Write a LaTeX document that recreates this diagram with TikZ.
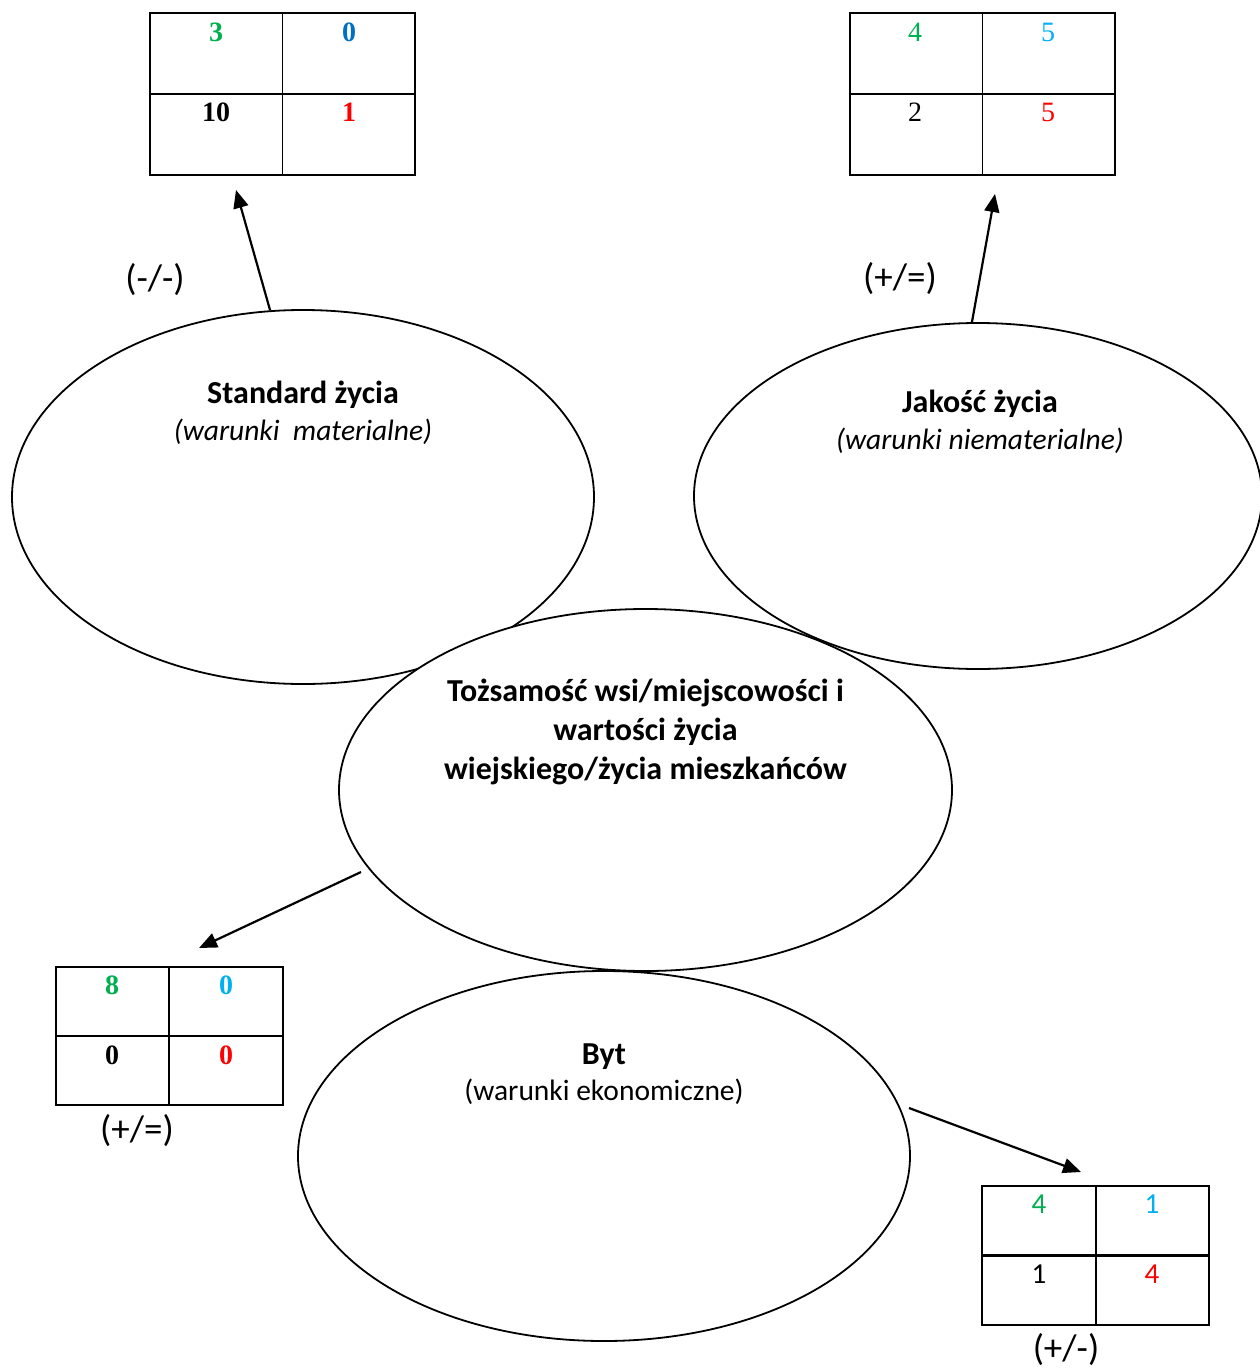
\documentclass[tikz,border=0pt]{standalone}
\usepackage{fontspec}
\setmainfont{Carlito}
\newfontfamily\numfont{Liberation Serif}
\usetikzlibrary{shapes.geometric,arrows.meta}
\definecolor{cgreen}{HTML}{00B050}
\definecolor{cblue}{HTML}{0070C0}
\definecolor{clblue}{HTML}{00B0F0}
\definecolor{cred}{HTML}{FF0000}
\newcommand{\bigb}[1]{{\fontsize{32}{37}\selectfont\bfseries #1}}
\begin{document}
\begin{tikzpicture}[x=1pt,y=-1pt,
  oval/.style={draw,ellipse,line width=1.8pt,fill=white,inner sep=0pt},
  tbl/.style={draw,line width=2.4pt,inner sep=0pt},
  cell/.style={line width=2.4pt},
  thincell/.style={line width=1.6pt},
  num/.style={font=\numfont\fontsize{28}{30}\selectfont\bfseries,inner sep=0pt},
  numr/.style={font=\numfont\fontsize{28}{30}\selectfont,inner sep=0pt},
  nums/.style={font=\fontsize{29}{30}\selectfont,inner sep=0pt},
  lbl/.style={font=\fontsize{37}{40}\selectfont,inner sep=0pt},
  ttl/.style={align=center,inner sep=0pt,font=\fontsize{29.5}{37}\selectfont},
  arr/.style={line width=2.2pt,-{Triangle[length=18pt,width=15pt]}}
]
\useasboundingbox[fill=white] (0,0) rectangle (1260,1368);

% ellipses
\node[oval,minimum width=582pt,minimum height=374pt] (std) at (303,497) {};
\node[oval,minimum width=568pt,minimum height=346pt] (jak) at (978,496) {};
\node[oval,minimum width=613pt,minimum height=362pt] (toz) at (645.5,790) {};
\node[oval,minimum width=612pt,minimum height=370pt] (byt) at (604,1156) {};

% titles
\node[ttl] (stdt) at (303,413) {\bigb{Standard życia}\\\textit{(warunki\ \ materialne)}};
\node[ttl] (jakt) at (980,422) {\bigb{Jakość życia}\\\textit{(warunki niematerialne)}};
\node[ttl,font=\fontsize{32}{39}\selectfont\bfseries] (tozt) at (645.5,732) {Tożsamość wsi/miejscowości i\\wartości życia\\wiejskiego/życia mieszkańców};
\node[ttl,font=\fontsize{29.5}{36}\selectfont] (bytt) at (604,1074) {\bigb{Byt}\\(warunki ekonomiczne)};

% tables
\node[tbl,minimum width=265pt,minimum height=162pt] (t1) at (282.5,94) {};
\draw[thincell] (t1.north) -- (t1.south);
\draw[cell] (t1.west) -- (t1.east);
\node[num,text=cgreen] (t1a) at (216,32) {3};
\node[num,text=cblue] (t1b) at (349,32) {0};
\node[num] (t1c) at (216,112) {10};
\node[num,text=cred] (t1d) at (349,112) {1};

\node[tbl,minimum width=265pt,minimum height=162pt] (t2) at (982.5,94) {};
\draw[thincell] (t2.north) -- (t2.south);
\draw[cell] (t2.west) -- (t2.east);
\node[numr,text=cgreen] (t2a) at (915,32) {4};
\node[numr,text=clblue] (t2b) at (1048,32) {5};
\node[numr] (t2c) at (915,112) {2};
\node[numr,text=cred] (t2d) at (1048,112) {5};

\node[tbl,minimum width=227pt,minimum height=138pt] (t3) at (169.5,1036) {};
\draw[thincell] (169,967) -- (169,1105);
\draw[cell] (t3.west) -- (t3.east);
\node[num,text=cgreen] (t3a) at (112,985) {8};
\node[num,text=clblue] (t3b) at (226,985) {0};
\node[num] (t3c) at (112,1055) {0};
\node[num,text=cred] (t3d) at (226,1055) {0};

\node[tbl,minimum width=227pt,minimum height=139pt] (t4) at (1095.5,1255.5) {};
\draw[thincell] (1096,1186) -- (1096,1325);
\draw[cell] (t4.west) -- (t4.east);
\node[nums,text=cgreen] (t4a) at (1039,1204) {4};
\node[nums,text=clblue] (t4b) at (1152,1204) {1};
\node[nums] (t4c) at (1039,1274) {1};
\node[nums,text=cred] (t4d) at (1152,1274) {4};

% labels
\node[lbl] (l1) at (155,280) {(-/-)};
\node[lbl] (l2) at (900,279) {(+/=)};
\node[lbl] (l3) at (137,1131) {(+/=)};
\node[lbl] (l4) at (1066,1350) {(+/-)};

% arrows
\coordinate (a1) at (236,190);
\coordinate (a2) at (995,194);
\coordinate (s3) at (361,872);
\coordinate (a3) at (199,948);
\coordinate (s4) at (909,1108);
\coordinate (a4) at (1081,1172);
\draw[arr] (std.100.6) -- (a1);
\draw[arr] (jak.92.3) -- (a2);
\draw[arr] (s3) -- (a3);
\draw[arr] (s4) -- (a4);
\end{tikzpicture}
\end{document}
